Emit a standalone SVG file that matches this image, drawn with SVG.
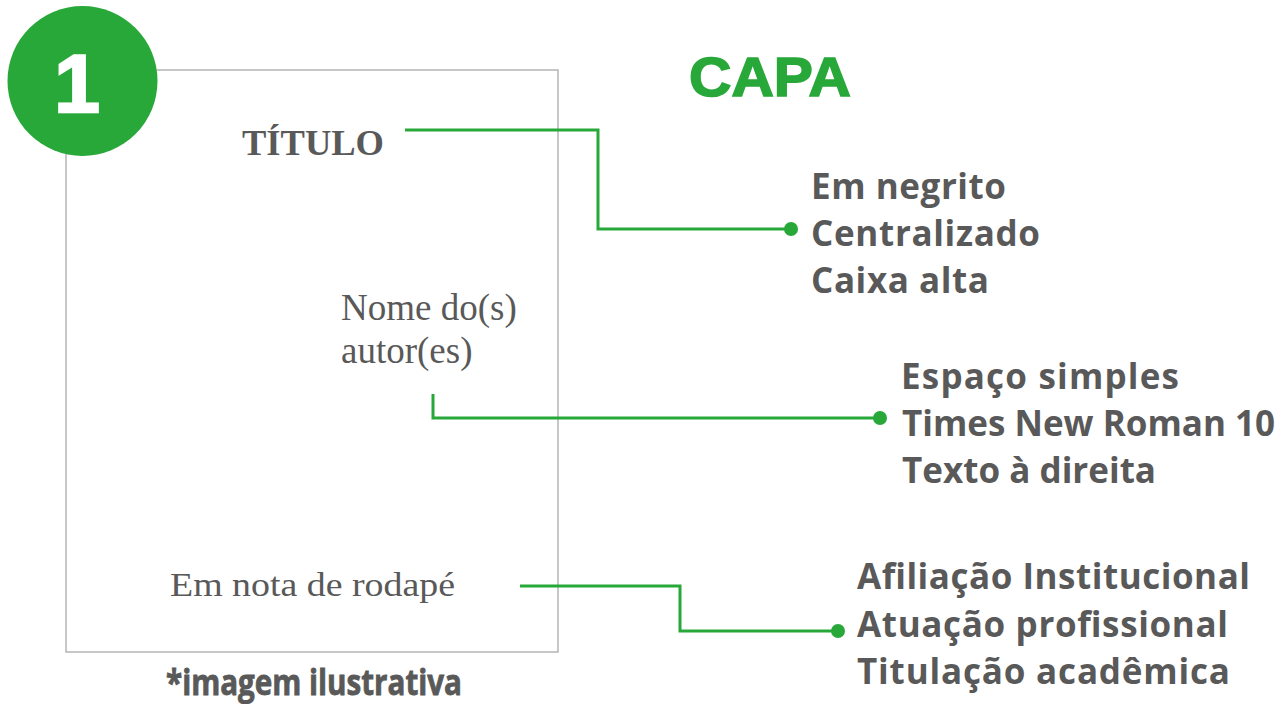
<svg xmlns="http://www.w3.org/2000/svg" width="1282" height="704" viewBox="0 0 1282 704">
<style>
.note{font-family:"Open Sans","Liberation Sans",sans-serif;font-weight:700;font-size:35px;fill:#595959}
.serif{font-family:"Liberation Serif","Times New Roman",serif;fill:#595959}
.conn{fill:none;stroke:#29a83a;stroke-width:3}
.dot{fill:#29a83a}
</style>
<rect width="1282" height="704" fill="#ffffff"/>
<g id="page">
<rect x="66" y="70" width="492" height="582" fill="none" stroke="#b5b5b5" stroke-width="1.5"/>
</g>
<g id="badge">
<circle cx="82.5" cy="81" r="75" fill="#29a83a"/>
<text x="77" y="112" text-anchor="middle" font-family="Liberation Sans, Arial, sans-serif" font-weight="900" font-size="82" fill="#ffffff" stroke="#ffffff" stroke-width="2.5">1</text>
</g>
<g id="heading">
<text x="689" y="96" font-family="Liberation Sans, Arial, sans-serif" font-weight="700" font-size="56" fill="#29a83a" stroke="#29a83a" stroke-width="1.6" textLength="162" lengthAdjust="spacingAndGlyphs">CAPA</text>
</g>
<g id="titulo">
<text class="serif" x="242" y="155" font-weight="700" font-size="36.5" textLength="142" lengthAdjust="spacingAndGlyphs">TÍTULO</text>
</g>
<g id="autores">
<text class="serif" x="341" y="320" font-size="37">Nome do(s)</text>
<text class="serif" x="341" y="363" font-size="37">autor(es)</text>
</g>
<g id="rodape">
<text class="serif" x="170" y="596" font-size="33" textLength="285" lengthAdjust="spacingAndGlyphs">Em nota de rodapé</text>
</g>
<g id="note1">
<text class="note" x="811" y="199" textLength="195" lengthAdjust="spacing">Em negrito</text>
<text class="note" x="811" y="246" textLength="229" lengthAdjust="spacing">Centralizado</text>
<text class="note" x="811" y="293" textLength="178" lengthAdjust="spacing">Caixa alta</text>
</g>
<g id="note2">
<text class="note" x="901" y="389" textLength="278" lengthAdjust="spacing">Espaço simples</text>
<text class="note" x="902" y="436" textLength="373" lengthAdjust="spacing">Times New Roman 10</text>
<text class="note" x="902" y="483" textLength="254" lengthAdjust="spacing">Texto à direita</text>
</g>
<g id="note3">
<text class="note" x="857" y="589" textLength="393" lengthAdjust="spacing">Afiliação Institucional</text>
<text class="note" x="857" y="637" textLength="371" lengthAdjust="spacing">Atuação profissional</text>
<text class="note" x="857" y="684" textLength="373" lengthAdjust="spacing">Titulação acadêmica</text>
</g>
<g id="caption">
<text class="note" x="166" y="695" font-size="23" font-weight="800" stroke="#595959" stroke-width="0.8" textLength="296" lengthAdjust="spacingAndGlyphs">*imagem ilustrativa</text>
</g>
<g id="connectors">
<polyline class="conn" points="405,130 598,130 598,229 791,229"/>
<circle class="dot" cx="791" cy="229" r="7"/>
<polyline class="conn" points="433,394 433,418 880,418"/>
<circle class="dot" cx="880" cy="418" r="7"/>
<polyline class="conn" points="520,586 680,586 680,631 838,631"/>
<circle class="dot" cx="838" cy="631" r="7"/>
</g>
</svg>
